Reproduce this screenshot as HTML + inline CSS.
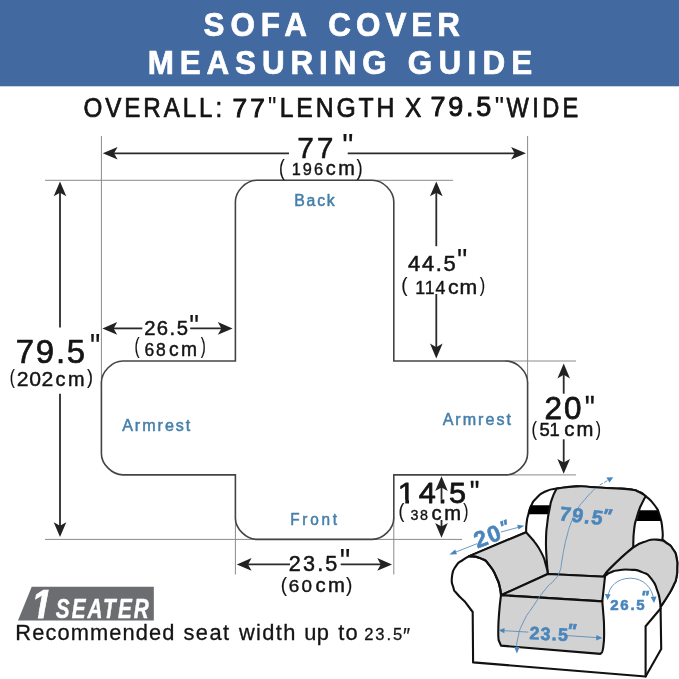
<!DOCTYPE html>
<html lang="en">
<head>
<meta charset="utf-8">
<title>Sofa Cover Measuring Guide</title>
<style>
html,body{margin:0;padding:0;background:#fff}
body{width:679px;height:679px;overflow:hidden}
svg{display:block;font-family:"Liberation Sans",sans-serif;will-change:transform}
text{white-space:pre}
.g{stroke:#8a8a8a;stroke-width:1;fill:none}
.s{stroke:#444;stroke-width:1.6;fill:none}
.a{stroke:#2a2a2a;stroke-width:1.8;fill:none}
.h{fill:#222}
</style>
</head>
<body>
<svg width="679" height="679" viewBox="0 0 679 679">
<defs>
<path id="ah" d="M0 0L14.8 -6.3L11.2 0L14.8 6.3Z"/>
</defs>
<rect x="0" y="0" width="679" height="679" fill="#fff"/>
<rect x="0" y="0" width="679" height="86.3" fill="#426aa0"/>
<!-- guide lines -->
<g class="g">
<path d="M101.4 136V386"/>
<path d="M527.6 136V384"/>
<path d="M45 180.3H453"/>
<path d="M45 539.4H462"/>
<path d="M505 361H576"/>
<path d="M505 474.9H576"/>
<path d="M235.4 517V574.5"/>
<path d="M393.8 517V574.5"/>
</g>
<!-- cover outline -->
<path class="s" d="M256.9 180.3H372.3C383.05 180.3 393.8 191.05 393.8 201.8V361H506.1C516.85 361 527.6 371.75 527.6 382.5V453.4C527.6 464.15 516.85 474.9 506.1 474.9H393.8V517.9C393.8 528.65 383.05 539.4 372.3 539.4H256.9C246.15 539.4 235.4 528.65 235.4 517.9V474.9H122.9C112.15 474.9 101.4 464.15 101.4 453.4V382.5C101.4 371.75 112.15 361 122.9 361H235.4V201.8C235.4 191.05 246.15 180.3 256.9 180.3Z"/>
<!-- arrows -->
<g class="a">
<path d="M112 153.3H289"/><path d="M347.7 153.3H516"/>
<path d="M60 192V327.5"/><path d="M60 393.7V526"/>
<path d="M436.3 192V246.2"/><path d="M436.3 294V348"/>
<path d="M112 328.4H142.3"/><path d="M190.2 328.4H223"/>
<path d="M563.7 374V393.7"/><path d="M563.7 439.3V464"/>
<path d="M441.5 486V499.5"/><path d="M441.5 520V528"/>
<path d="M247 564.4H290"/><path d="M340.7 564.4H382"/>
</g>
<g class="h">
<use href="#ah" transform="translate(102.8 153.3)"/>
<use href="#ah" transform="translate(525.9 153.3) rotate(180)"/>
<use href="#ah" transform="translate(60 181.5) rotate(90)"/>
<use href="#ah" transform="translate(60 537) rotate(-90)"/>
<use href="#ah" transform="translate(436.3 181.5) rotate(90)"/>
<use href="#ah" transform="translate(436.3 358.4) rotate(-90)"/>
<use href="#ah" transform="translate(102.4 328.4)"/>
<use href="#ah" transform="translate(232.6 328.4) rotate(180)"/>
<use href="#ah" transform="translate(563.7 363.6) rotate(90)"/>
<use href="#ah" transform="translate(563.7 473.7) rotate(-90)"/>
<use href="#ah" transform="translate(441.5 476.3) rotate(90)"/>
<use href="#ah" transform="translate(441.5 537.8) rotate(-90)"/>
<use href="#ah" transform="translate(236.8 564.4)"/>
<use href="#ah" transform="translate(392 564.4) rotate(180)"/>
</g>
<!-- badge -->
<path d="M31.7 586.8H153.8V620.6H18Z" fill="#6c6d70"/>
<g id="sofa" stroke-linejoin="round" stroke-linecap="round">
<path d="M469.2 556.1L526.1 532.2L526.1 532.2C526.3 529.1 525.8 529 526.6 523C527.4 517 526.9 519.8 528.4 514.2C529.9 508.6 528.4 511.5 531 506.2C533.6 500.9 531.3 503.3 536.3 498.3C541.3 493.3 539.2 494.4 546 491.2C552.8 488 553.1 489.5 556.6 488.6L576.7 486.4C582.6 486.7 582.5 486.7 594.3 487.3C606.1 487.9 600.2 487.5 612 488.2C623.8 488.9 620.9 488.2 629.7 489.4C638.5 490.6 633.2 489.5 638.5 491.7C643.8 493.9 640.3 491.7 645.6 496.1C650.9 500.5 649.7 498.5 654.4 505C659.1 511.5 657 507.4 659.7 515.6C662.4 523.8 661.5 521.8 662.4 529.7C663.3 537.6 662.4 536.2 662.4 539.4L662.4 539.4C663.8 540.6 662.9 539.6 666.5 543C670.1 546.4 669.8 544.5 673.2 549.5C676.6 554.5 675.3 551.8 676.6 558C677.9 564.2 677.3 561.5 677.2 568C677.1 574.5 677.6 571.7 676.4 577.5C675.2 583.3 676.3 579.5 673.5 585.5C670.7 591.5 672.3 588.4 668 595.5C663.7 602.6 663.1 603 660.6 606.7L660.6 608.5L661.2 649.1L645.6 676.5L473.1 662.4L472.7 612L464.7 601.4C462.1 598.8 460.6 598.2 456.8 593.5C453 588.8 454.9 592.9 453.3 587.3C451.7 581.7 451.1 583.8 452 576.7C452.9 569.6 452.2 571.7 455.9 566.1C459.6 560.5 458.6 563.2 463 559.9C467.4 556.6 467.1 557.4 469.2 556.1Z" fill="#fff" stroke="#111" stroke-width="2.1"/>
<path d="M660.6 608.5L645.6 626.2V676.5" fill="none" stroke="#111" stroke-width="2.1"/>
<path d="M530 505.3H550.5L548.2 514.2H528.4Z" fill="#000"/>
<path d="M639.4 510.3H657.5L661 520.9H636.5Z" fill="#000"/>
<g fill="#d2d2d2" stroke="#111" stroke-width="2.1">
<path d="M556.6 488.6C563.3 487.9 564.1 486.8 576.7 486.4C589.3 486 582.5 486.7 594.3 487.3C606.1 487.9 600.2 487.5 612 488.2C623.8 488.9 620.9 488.2 629.7 489.4C638.5 490.6 633.2 489.5 638.5 491.7C643.8 493.9 643.2 494.6 645.6 496.1L640.3 506.7C639.1 510.2 638.9 509.6 636.8 517.3C634.7 525 635.3 519.7 634.1 529.7C632.9 539.7 633.5 541.5 633.2 547.4L620.9 558C616.2 562.7 612 565.9 606.7 572.1C601.4 578.3 605.6 575.2 605 576.7L547.8 574L546.6 558.4C546.4 552.5 545.8 552.5 546 540.7C546.2 528.9 546.1 533.6 547.3 523C548.5 512.4 548 517.1 549.6 508.9C551.2 500.7 549.9 505.1 552.2 498.3C554.5 491.5 555.1 491.8 556.6 488.6Z"/>
<path d="M469.2 556.1L526.1 532.2L533.7 540.7C536.3 544.8 537.5 544.9 541.6 553.1C545.7 561.3 543.9 558.4 546 565.4C548.1 572.4 547.2 571.1 547.8 574L501 595.2L500 588C498.9 584.6 500.1 585.3 496.6 577.8C493.1 570.3 494.8 571.9 489.5 565.4C484.2 558.9 487.5 561.5 480.7 558.4C473.9 555.3 473 556.9 469.2 556.1Z"/>
<path d="M547.8 574L605 576.7L602.3 601.4L501 595.2Z"/>
<path d="M501 595.2L602.3 601.4L603.2 612C603.5 617.9 604.1 617.9 604.1 629.7C604.1 641.5 604.4 639.3 603.2 647.4C602 655.5 601.4 651.7 600.5 653.9L501 645.6L498.6 640C498.5 636.6 498.1 639 498.3 629.7C498.5 620.4 498.3 623.5 499.2 612C500.1 600.5 500.4 600.8 501 595.2Z"/>
<path d="M633.2 547.4C636.7 545.6 636.1 544.7 643.8 542.1C651.5 539.5 648.6 539.3 656.2 539.6C663.8 539.9 660.8 539.7 666.5 543C672.2 546.3 669.8 544.5 673.2 549.5C676.6 554.5 675.3 551.8 676.6 558C677.9 564.2 677.3 561.5 677.2 568C677.1 574.5 677.6 571.7 676.4 577.5C675.2 583.3 676.3 579.5 673.5 585.5C670.7 591.5 672.3 588.4 668 595.5C663.7 602.6 663.1 603 660.6 606.7L659.8 600C659 597 660.1 597.9 657.4 590.9C654.7 583.9 656.7 585.4 651.6 579.1C646.5 572.8 649.2 575.2 642.1 572.1C635 569 638.1 570.3 630.3 569.7C622.5 569.1 625 569.4 618.6 570.3C612.2 571.2 615.4 570.6 611 572.3C606.6 574 607.3 574.4 605.5 575.5L606.7 572.1C611.4 567.4 612.1 566.2 620.9 558C629.7 549.8 629.1 550.9 633.2 547.4Z"/>
</g>
<path d="M469.2 556.1C473 556.9 473.9 555.3 480.7 558.4C487.5 561.5 484.2 558.9 489.5 565.4C494.8 571.9 493.1 570.3 496.6 577.8C500.1 585.3 498.5 582.2 500 588C501.5 593.8 500.7 592.8 501 595.2" fill="none" stroke="#111" stroke-width="2.1"/>
</g>
<g fill="none" stroke="#5b8dbb" stroke-width="0.9" stroke-linecap="round">
<path d="M595.4 488.2C591.9 492 591 492.1 584.8 499.5C578.6 506.9 581.4 502.7 576.8 510.5C572.2 518.3 574.3 514.5 571 523C567.7 531.5 569.2 527.9 567 536C564.8 544.1 566 539.4 564.3 547.4C562.6 555.4 563.6 551.8 562 560C560.4 568.2 562.3 565 559.5 572C556.7 579 558 575.5 553.5 581C549 586.5 552.6 580.3 546 588.5C539.4 596.7 541.3 594.1 533.7 605.5C526.1 616.9 528.4 611.6 523.1 622.6C517.8 633.6 519.9 630 517.8 638.5C515.7 647 517.2 644.8 516.9 648"/>
<path d="M600 484.9L609.5 479.4" stroke-dasharray="3 2.2"/>
<path d="M451.5 553.7L476.8 543.8M501.3 531.9L522 526.4"/>
<path d="M501 630.5L528 632.1M566.9 635.6L600 637.8"/>
<path d="M608 597C608.5 586 618 578.2 630.3 578.2C643 578.2 652.8 587.5 653.6 600"/>
</g>
<g fill="#4a86bb">
<path d="M449.4 554.5L455.2 549.6L456.9 554.3Z"/>
<path d="M524.2 525.8L517.2 524.7L518.5 529.6Z"/>
<path d="M613.2 477.2L606.3 477.6L609.6 482.6Z"/>
<path d="M516.9 653.5L514.2 647L519.6 647Z"/>
<path d="M498.6 630.3L504.6 627.9L504.3 633.3Z"/>
<path d="M602.4 638L596.5 635L596.1 640.4Z"/>
<path d="M607.6 600L604.8 594L610.6 594.2Z"/>
<path d="M654 603L650.6 597L656.6 596.6Z"/>
</g>
<g fill="#4a86bb" stroke="#4a86bb" stroke-width="0.6" font-weight="bold">
<text transform="translate(477.6 548.5) rotate(-21)" font-size="23" letter-spacing="1.2">20<tspan font-size="18" dy="-4.5" dx="0.3" font-style="italic">"</tspan></text>
<text transform="translate(558.4 520.3) rotate(6) skewX(-4)" font-size="20" letter-spacing="1.5">79.5<tspan font-size="20" dy="-2.5" dx="-3" font-style="italic">"</tspan></text>
<text transform="translate(529.2 639.1) rotate(3)" font-size="17.8" letter-spacing="1.25">23.5<tspan font-size="20" dy="-3.6" dx="-2.6" font-style="italic">"</tspan></text>
<text transform="translate(610.3 609.8)" font-size="15" letter-spacing="1.7">26.5<tspan font-size="17" dy="-7" dx="-5.5" font-style="italic">"</tspan></text>
</g>

<g><text transform="translate(203.51 35.5) scale(0.97 1)" letter-spacing="6.17" font-size="32.4" font-weight="bold" fill="#ffffff" stroke="#ffffff" stroke-width="0.7" stroke-linejoin="round">SOFA </text><text transform="translate(328.33 35.5) scale(0.97 1)" letter-spacing="5.14" font-size="32.4" font-weight="bold" fill="#ffffff" stroke="#ffffff" stroke-width="0.7" stroke-linejoin="round">COVER</text></g>
<g><text transform="translate(147.7 74.4) scale(0.97 1)" letter-spacing="6.05" font-size="32.4" font-weight="bold" fill="#ffffff" stroke="#ffffff" stroke-width="0.7" stroke-linejoin="round">MEASURING </text><text transform="translate(407.73 74.4) scale(0.97 1)" letter-spacing="6.46" font-size="32.4" font-weight="bold" fill="#ffffff" stroke="#ffffff" stroke-width="0.7" stroke-linejoin="round">GUIDE</text></g>
<g><text transform="translate(83.62 116.5) scale(0.88 1)" letter-spacing="3.28" font-size="27.5" fill="#141414" stroke="#141414" stroke-width="0.7" stroke-linejoin="round">OVERALL: </text><text x="232.45" y="117.3" letter-spacing="3.25" font-size="26.3" fill="#141414" stroke="#141414" stroke-width="1.0" stroke-linejoin="round">77</text><text transform="translate(267.96 115.92) scale(0.8375 1)" font-size="28.09" fill="#141414" stroke="#141414" stroke-width="0.2" stroke-linejoin="round">"</text><text transform="translate(279.73 116.5) scale(0.9 1)" letter-spacing="3.16" font-size="27.5" fill="#141414" stroke="#141414" stroke-width="0.75" stroke-linejoin="round">LENGTH </text><text transform="translate(404.98 116.5) scale(0.8944 1)" font-size="27.5" fill="#141414" stroke="#141414" stroke-width="0.75" stroke-linejoin="round">X </text><text x="430.6" y="116.2" letter-spacing="2.67" font-size="27" fill="#141414" stroke="#141414" stroke-width="0.9" stroke-linejoin="round">79.5</text><text transform="translate(494.81 115.33) scale(0.9931 1)" font-size="26.38" fill="#141414" stroke="#141414" stroke-width="0.2" stroke-linejoin="round">"</text><text transform="translate(506.61 116.5) scale(0.86 1)" letter-spacing="3.89" font-size="27.5" fill="#141414" stroke="#141414" stroke-width="0.75" stroke-linejoin="round">WIDE</text></g>
<g><text x="297.35" y="158.1" letter-spacing="2.65" font-size="30" fill="#141414" stroke="#141414" stroke-width="0.5" stroke-linejoin="round">77</text><text transform="translate(342.24 157.26) scale(0.9263 1)" font-size="34.04" fill="#141414" stroke="#141414" stroke-width="0.2" stroke-linejoin="round">"</text></g>
<g><text transform="translate(278.9 175.21) scale(0.8 1)" font-size="21.38" fill="#141414" stroke="#141414" stroke-width="0.15" stroke-linejoin="round">(</text><text transform="translate(291.65 175.4) scale(0.95 1)" letter-spacing="2.22" font-size="17.2" fill="#141414" stroke="#141414" stroke-width="0.4" stroke-linejoin="round">196</text><text transform="translate(325.87 175.4) scale(0.973 1)" letter-spacing="2.46" font-size="20.5" fill="#141414" stroke="#141414" stroke-width="0.45" stroke-linejoin="round">cm</text><text transform="translate(356.4 175.21) scale(0.8667 1)" font-size="21.38" fill="#141414" stroke="#141414" stroke-width="0.15" stroke-linejoin="round">)</text></g>
<g><text x="294.2" y="206.1" letter-spacing="1.82" font-size="15.8" fill="#457fab" stroke="#457fab" stroke-width="0.5" stroke-linejoin="round">Back</text></g>
<g><text transform="translate(408.05 271.4) scale(1.0087 1)" letter-spacing="1.63" font-size="21.8" fill="#141414" stroke="#141414" stroke-width="0.5" stroke-linejoin="round">44.5</text><text transform="translate(456.93 272.16) scale(0.8526 1)" font-size="34.04" fill="#141414" stroke="#141414" stroke-width="0.2" stroke-linejoin="round">"</text></g>
<g><text transform="translate(401.24 292.43) scale(0.9273 1)" font-size="20.32" fill="#141414" stroke="#141414" stroke-width="0.15" stroke-linejoin="round">(</text><text x="415.15" y="293.8" letter-spacing="0.98" font-size="17.8" fill="#141414" stroke="#141414" stroke-width="0.4" stroke-linejoin="round">114</text><text transform="translate(448.04 293.8) scale(1.0105 1)" letter-spacing="0.92" font-size="21" fill="#141414" stroke="#141414" stroke-width="0.5" stroke-linejoin="round">cm</text><text transform="translate(479.7 292.43) scale(0.8 1)" font-size="20.32" fill="#141414" stroke="#141414" stroke-width="0.15" stroke-linejoin="round">)</text></g>
<g><text transform="translate(144.13 335.2) scale(1.0316 1)" letter-spacing="1.45" font-size="19.6" fill="#141414" stroke="#141414" stroke-width="0.5" stroke-linejoin="round">26.5</text><text transform="translate(189.18 336.89) scale(0.8941 1)" font-size="30.64" fill="#141414" stroke="#141414" stroke-width="0.2" stroke-linejoin="round">"</text></g>
<g><text transform="translate(134.41 352.73) scale(0.713 1)" font-size="21.28" fill="#141414" stroke="#141414" stroke-width="0.15" stroke-linejoin="round">(</text><text x="144.55" y="355.5" letter-spacing="1.75" font-size="17.5" fill="#141414" stroke="#141414" stroke-width="0.4" stroke-linejoin="round">68</text><text transform="translate(169.02 355.5) scale(0.9622 1)" letter-spacing="2.54" font-size="20" fill="#141414" stroke="#141414" stroke-width="0.5" stroke-linejoin="round">cm</text><text transform="translate(200.7 352.73) scale(0.713 1)" font-size="21.28" fill="#141414" stroke="#141414" stroke-width="0.15" stroke-linejoin="round">)</text></g>
<g><text transform="translate(15.75 363.1) scale(0.9968 1)" letter-spacing="1.8" font-size="33" fill="#141414" stroke="#141414" stroke-width="0.7" stroke-linejoin="round">79.5</text><text transform="translate(89.95 357.86) scale(0.841 1)" font-size="34.47" fill="#141414" stroke="#141414" stroke-width="0.2" stroke-linejoin="round">"</text></g>
<g><text transform="translate(9.69 384.2) scale(0.7304 1)" font-size="21" fill="#141414" stroke="#141414" stroke-width="0.2" stroke-linejoin="round">(</text><text transform="translate(16.84 386) scale(1.01 1)" letter-spacing="0.58" font-size="21" fill="#141414" stroke="#141414" stroke-width="0.4" stroke-linejoin="round">202</text><text transform="translate(55.62 386) scale(0.9684 1)" letter-spacing="2.44" font-size="20.5" fill="#141414" stroke="#141414" stroke-width="0.5" stroke-linejoin="round">cm</text><text transform="translate(86.9 384.2) scale(0.8522 1)" font-size="21" fill="#141414" stroke="#141414" stroke-width="0.2" stroke-linejoin="round">)</text></g>
<g><text transform="translate(122.16 430.5) scale(1.02 1)" letter-spacing="1.93" font-size="15.8" fill="#457fab" stroke="#457fab" stroke-width="0.5" stroke-linejoin="round">Armrest</text></g>
<g><text transform="translate(442.65 425.4) scale(1.02 1)" letter-spacing="1.95" font-size="15.8" fill="#457fab" stroke="#457fab" stroke-width="0.5" stroke-linejoin="round">Armrest</text></g>
<g><text transform="translate(544.47 418.8) scale(0.9836 1)" letter-spacing="2.08" font-size="32" fill="#141414" stroke="#141414" stroke-width="0.8" stroke-linejoin="round">20</text><text transform="translate(584.63 419.07) scale(0.8541 1)" font-size="33.19" fill="#141414" stroke="#141414" stroke-width="0.4" stroke-linejoin="round">"</text></g>
<g><text transform="translate(531.5 435.77) scale(0.8 1)" font-size="20.64" fill="#141414" stroke="#141414" stroke-width="0.15" stroke-linejoin="round">(</text><text transform="translate(539.51 436.3) scale(0.97 1)" letter-spacing="-0.21" font-size="19" fill="#141414" stroke="#141414" stroke-width="0.5" stroke-linejoin="round">51</text><text transform="translate(564.28 436.3) scale(1.0333 1)" letter-spacing="1.96" font-size="19.6" fill="#141414" stroke="#141414" stroke-width="0.55" stroke-linejoin="round">cm</text><text transform="translate(595.7 435.77) scale(0.7652 1)" font-size="20.64" fill="#141414" stroke="#141414" stroke-width="0.15" stroke-linejoin="round">)</text></g>
<g><text transform="translate(418.65 502.9) scale(1.0125 1)" letter-spacing="2.41" font-size="30.3" fill="#141414" stroke="#141414" stroke-width="0.8" stroke-linejoin="round"><tspan x="-20.59" letter-spacing="0">1</tspan><tspan x="0">4.5</tspan></text><text transform="translate(469.72 502.89) scale(0.8778 1)" font-size="31.06" fill="#141414" stroke="#141414" stroke-width="0.4" stroke-linejoin="round">"</text></g>
<path d="M399 499.8H405.3V504H399ZM409 499.8H415V504H409Z" fill="#fff"/>
<g><text transform="translate(398.48 518.24) scale(0.8952 1)" font-size="19.79" fill="#141414" stroke="#141414" stroke-width="0.15" stroke-linejoin="round">(</text><text x="410.4" y="519.7" letter-spacing="1.6" font-size="14.3" fill="#141414" stroke="#141414" stroke-width="0.35" stroke-linejoin="round">38</text><text transform="translate(431.58 519.7) scale(1.0333 1)" letter-spacing="2.5" font-size="19.5" fill="#141414" stroke="#141414" stroke-width="0.5" stroke-linejoin="round">cm</text><text transform="translate(463.3 518.24) scale(0.7818 1)" font-size="19.79" fill="#141414" stroke="#141414" stroke-width="0.15" stroke-linejoin="round">)</text></g>
<g><text transform="translate(290.24 524.5) scale(0.96 1)" letter-spacing="2.85" font-size="16" fill="#457fab" stroke="#457fab" stroke-width="0.5" stroke-linejoin="round">Front</text></g>
<g><text transform="translate(288.86 571.2) scale(0.9905 1)" letter-spacing="2.15" font-size="21.8" fill="#141414" stroke="#141414" stroke-width="0.5" stroke-linejoin="round">23.5</text><text transform="translate(339.84 573.25) scale(0.8513 1)" font-size="34.89" fill="#141414" stroke="#141414" stroke-width="0.2" stroke-linejoin="round">"</text></g>
<g><text transform="translate(280.71 591.54) scale(0.9524 1)" font-size="19.79" fill="#141414" stroke="#141414" stroke-width="0.15" stroke-linejoin="round">(</text><text transform="translate(288.78 592.4) scale(1.0909 1)" letter-spacing="2.07" font-size="17.3" fill="#141414" stroke="#141414" stroke-width="0.4" stroke-linejoin="round">60</text><text transform="translate(315.61 592.4) scale(0.9789 1)" letter-spacing="2.4" font-size="20.7" fill="#141414" stroke="#141414" stroke-width="0.5" stroke-linejoin="round">cm</text><text transform="translate(345.9 591.54) scale(0.9636 1)" font-size="19.79" fill="#141414" stroke="#141414" stroke-width="0.15" stroke-linejoin="round">)</text></g>
<g><text transform="translate(29.6 617.9) skewX(-10.6) scale(0.9 1)" font-size="40.6" font-weight="bold" fill="#fff" stroke="#fff" stroke-width="0.8">1 </text><path d="M29 612.9H38.8L37.7 619H29ZM44.5 612.9H54V619H43.4Z" fill="#6c6d70"/><text transform="translate(55.7 617.6) scale(0.74 1)" letter-spacing="2.86" font-size="28.0" font-weight="bold" font-style="italic" fill="#ffffff" stroke="#ffffff" stroke-width="0.5" stroke-linejoin="round">SEATER</text></g>
<g><text transform="translate(15.35 639.6) scale(1.03 1)" letter-spacing="1.07" font-size="21.2" fill="#141414" stroke="#141414" stroke-width="0.3" stroke-linejoin="round">Recommended </text><text transform="translate(183.49 639.6) scale(1.03 1)" letter-spacing="1.4" font-size="21.2" fill="#141414" stroke="#141414" stroke-width="0.3" stroke-linejoin="round">seat </text><text transform="translate(238.96 639.6) scale(1.03 1)" letter-spacing="1.32" font-size="21.2" fill="#141414" stroke="#141414" stroke-width="0.3" stroke-linejoin="round">width </text><text transform="translate(304.21 639.6) scale(1.03 1)" letter-spacing="0.44" font-size="21.2" fill="#141414" stroke="#141414" stroke-width="0.3" stroke-linejoin="round">up </text><text transform="translate(338.24 639.6) scale(1.03 1)" letter-spacing="1.21" font-size="21.2" fill="#141414" stroke="#141414" stroke-width="0.3" stroke-linejoin="round">to </text><text transform="translate(364.18 639.8) scale(0.9576 1)" letter-spacing="1.99" font-size="17.3" fill="#141414" stroke="#141414" stroke-width="0.3" stroke-linejoin="round">23.5</text><text transform="translate(402.91 643.2) scale(0.9185 1)" font-size="22" fill="#141414" stroke="#141414" stroke-width="0.2" stroke-linejoin="round">″</text></g>
</svg>
</body>
</html>
